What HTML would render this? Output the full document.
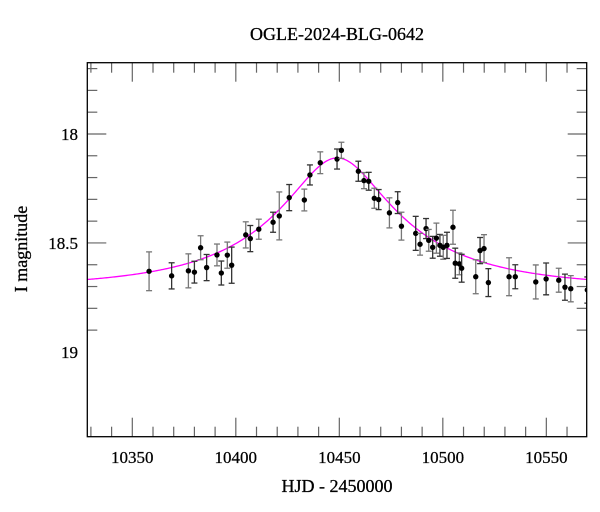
<!DOCTYPE html>
<html><head><meta charset="utf-8"><style>
body{margin:0;background:#fff;}
svg{display:block;font-family:"Liberation Serif",serif;}
</style></head><body>
<svg id="chart" width="600" height="512" viewBox="0 0 600 512" xmlns="http://www.w3.org/2000/svg">
<rect width="600" height="512" fill="#fff"/>
<text x="337" y="40" font-size="18" text-anchor="middle" stroke="#000" stroke-width="0.3">OGLE-2024-BLG-0642</text>
<text x="337" y="492" font-size="18" text-anchor="middle" stroke="#000" stroke-width="0.3">HJD - 2450000</text>
<text x="27" y="249" font-size="18" text-anchor="middle" stroke="#000" stroke-width="0.3" transform="rotate(-90 27 249)">I magnitude</text>
<defs><clipPath id="plotclip"><rect x="87.3" y="62.7" width="499.4" height="374"/></clipPath></defs>
<g id="ticks"></g>
<g id="model" clip-path="url(#plotclip)"></g>
<g id="points" clip-path="url(#plotclip)"></g>
<rect x="87.3" y="62.7" width="499.4" height="374" fill="none" stroke="#000" stroke-width="1.3"/>
</svg>
<script>
const hjd = [10358.1,10369.0,10377.1,10380.0,10383.0,10385.9,10390.9,10393.0,10395.9,10398.0,10404.8,10407.0,10411.1,10418.0,10421.0,10425.8,10433.1,10435.8,10440.8,10448.9,10451.0,10459.2,10461.9,10464.2,10466.9,10469.0,10474.2,10478.2,10480.0,10486.9,10489.0,10491.9,10493.2,10495.1,10496.9,10498.6,10500.2,10502.0,10504.9,10506.0,10508.0,10509.1,10515.9,10518.0,10519.9,10522.0,10532.0,10535.0,10544.9,10549.9,10556.0,10559.0,10561.8,10569.8];
const mag = [18.630,18.651,18.628,18.634,18.522,18.613,18.555,18.638,18.556,18.602,18.463,18.480,18.437,18.405,18.376,18.292,18.303,18.188,18.132,18.115,18.075,18.171,18.214,18.217,18.295,18.301,18.362,18.315,18.423,18.456,18.506,18.434,18.488,18.520,18.478,18.511,18.520,18.511,18.428,18.593,18.596,18.616,18.655,18.535,18.526,18.682,18.655,18.655,18.679,18.665,18.671,18.703,18.710,18.716];
const magErr = [0.089,0.060,0.078,0.050,0.055,0.060,0.050,0.055,0.060,0.083,0.060,0.060,0.046,0.046,0.110,0.060,0.050,0.046,0.050,0.046,0.037,0.046,0.037,0.041,0.046,0.046,0.069,0.050,0.064,0.078,0.050,0.046,0.050,0.050,0.069,0.050,0.055,0.060,0.078,0.069,0.050,0.064,0.078,0.060,0.064,0.064,0.087,0.055,0.078,0.073,0.055,0.060,0.060,0.060];
const xTicks = [10350,10400,10450,10500,10550];
const yTicks = [18,18.5,19];
const modelParams = [10449, 0.3, 78, 0.2986, 18.705]; // t0, u0, tE, fs, baseline

const X0=87.3,X1=586.7,Y0=62.7,Y1=436.7;
const D0=10328.26,D1=10569.5,M0=17.673,M1=19.389;
const xs=d=>X0+(d-D0)/(D1-D0)*(X1-X0);
const ys=m=>Y0+(m-M0)/(M1-M0)*(Y1-Y0);
const NS="http://www.w3.org/2000/svg";
function mk(tag,attrs,parent){const e=document.createElementNS(NS,tag);for(const k in attrs)e.setAttribute(k,attrs[k]);parent.appendChild(e);return e;}
const tg=document.getElementById('ticks');
for(let d=10330; d<=10565; d+=10){
  const major=d%50===0, L=major?19:10, x=xs(d);
  const t1=mk('line',{x1:x,x2:x,y1:Y1,y2:Y1-L,stroke:'#666','stroke-width':1.2},tg);
  
  
  const t2=mk('line',{x1:x,x2:x,y1:Y0,y2:Y0+L,stroke:'#666','stroke-width':1.2},tg);
  
  
}
xTicks.forEach(d=>{
  const t=mk('text',{x:xs(d),y:463,'font-size':17,'text-anchor':'middle',stroke:'#000','stroke-width':0.25},tg);
  t.textContent=d;
  
  
});
for(let i=7;i<=19;i++){
  const m=17+i*0.1, major=(i%5===0), L=major?19:10, y=ys(m);
  const t1=mk('line',{x1:X0,x2:X0+L,y1:y,y2:y,stroke:'#666','stroke-width':1.2},tg);
  
  
  const t2=mk('line',{x1:X1,x2:X1-L,y1:y,y2:y,stroke:'#666','stroke-width':1.2},tg);
  
  
}
yTicks.forEach(m=>{
  const t=mk('text',{x:78,y:ys(m)+6,'font-size':17,'text-anchor':'end',stroke:'#000','stroke-width':0.25},tg);
  t.textContent=String(m);
  
  
});
function modelMag(t){
  const [t0,u0,tE,fs,m0]=modelParams;
  const u=Math.sqrt(u0*u0+((t-t0)/tE)**2);
  const A=(u*u+2)/(u*Math.sqrt(u*u+4));
  return m0-2.5*Math.log10(fs*(A-1)+1);
}
let dstr='';
for(let t=D0;t<=D1;t+=0.5){dstr+=(dstr?'L':'M')+xs(t).toFixed(2)+','+ys(modelMag(t)).toFixed(2);}
const path=mk('path',{d:dstr,fill:'none',stroke:'#ff00ff','stroke-width':1.3},document.getElementById('model'));


const pg=document.getElementById('points');
hjd.forEach((d,i)=>{
  const x=xs(d),yt=ys(mag[i]-magErr[i]),yb=ys(mag[i]+magErr[i]);
  const g=mk('g',{},pg);
  
  
  const c=i%2?'#333':'#777';
  mk('line',{x1:x,x2:x,y1:yt,y2:yb,stroke:c,'stroke-width':1.3},g);
  mk('line',{x1:x-3,x2:x+3,y1:yt,y2:yt,stroke:c,'stroke-width':1.3},g);
  mk('line',{x1:x-3,x2:x+3,y1:yb,y2:yb,stroke:c,'stroke-width':1.3},g);
  mk('circle',{cx:x,cy:ys(mag[i]),r:2.7,fill:'#000'},g);
});
</script>
</body></html>
